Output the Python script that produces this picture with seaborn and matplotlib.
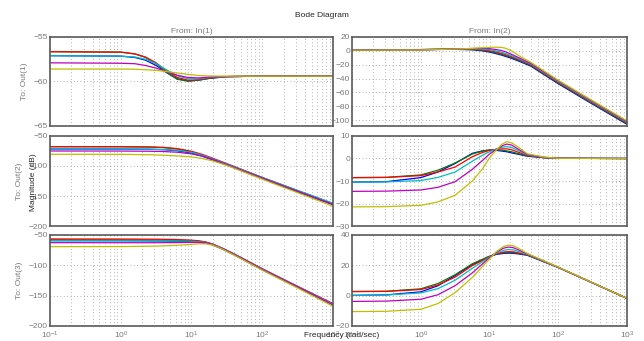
"""Bode magnitude diagram, 3 outputs x 2 inputs, six systems."""
import matplotlib
matplotlib.use("Agg")
import matplotlib.pyplot as plt
from matplotlib.ticker import LogLocator, NullFormatter
import pandas as pd
import seaborn as sns

SYSTEMS = ["b", "g", "r", "c", "m", "y"]
COLORS = {"b": "#0000ff", "g": "#008000", "r": "#ff0000",
          "c": "#00bfbf", "m": "#bf00bf", "y": "#bfbf00"}

# log10(frequency) sample points and magnitudes (dB)
W_OUT1_IN1 = [-1, 0, 0.2, 0.35, 0.5, 0.65, 0.8, 0.95, 1.1, 1.25, 1.5, 2, 3]
OUT1_IN1 = {
    "b": [-57.1, -57.15, -57.3, -57.6, -58.2, -59.0, -59.7, -59.95, -59.85, -59.65, -59.45, -59.4, -59.4],
    "g": [-56.65, -56.7, -56.9, -57.3, -58.0, -59.0, -59.75, -59.95, -59.85, -59.65, -59.45, -59.4, -59.4],
    "r": [-56.65, -56.7, -56.9, -57.25, -57.9, -58.8, -59.55, -59.85, -59.8, -59.6, -59.45, -59.4, -59.4],
    "c": [-57.1, -57.15, -57.25, -57.5, -58.0, -58.7, -59.35, -59.7, -59.7, -59.55, -59.45, -59.4, -59.4],
    "m": [-57.9, -57.95, -58.0, -58.2, -58.5, -58.9, -59.3, -59.55, -59.6, -59.5, -59.45, -59.4, -59.4],
    "y": [-58.6, -58.6, -58.62, -58.68, -58.75, -58.88, -59.05, -59.2, -59.32, -59.38, -59.4, -59.4, -59.4],
}

W_OUT1_IN2 = [-1, 0, 0.5, 0.75, 0.9, 1.0, 1.1, 1.17, 1.24, 1.32, 1.45, 1.6, 2, 2.5, 3]
OUT1_IN2 = {
    "b": [1.5, 1.8, 2.2, 1.5, 0.0, -1.8, -4.2, -6.0, -8.2, -10.8, -15.8, -22, -47.5, -77, -106],
    "g": [1.5, 1.8, 2.4, 2.0, 0.8, -0.8, -3.0, -4.8, -7.0, -9.6, -14.6, -21, -46.5, -76, -105],
    "r": [1.5, 1.8, 2.5, 2.5, 1.6, 0.3, -1.8, -3.5, -5.7, -8.4, -13.6, -20, -45.5, -75, -104],
    "c": [1.5, 1.8, 2.6, 3.0, 2.6, 1.6, -0.2, -1.8, -4.0, -6.9, -12.4, -19, -44.5, -74, -103],
    "m": [1.3, 1.6, 2.6, 3.4, 3.6, 3.2, 1.8, 0.6, -1.6, -5.0, -11.0, -18, -43.5, -73, -102],
    "y": [1.0, 1.3, 2.6, 3.6, 4.5, 5.0, 5.3, 5.0, 3.6, 0.0, -8.4, -16.5, -42.5, -72, -101],
}

W_OUT2_IN1 = [-1, 0, 0.4, 0.6, 0.8, 1.0, 1.15, 1.3, 1.5, 2, 2.5, 3]
OUT2_IN1 = {
    "b": [-71.7, -71.8, -72.1, -72.8, -74.5, -78.5, -83.5, -90, -98.5, -121, -143, -164.5],
    "g": [-67.8, -67.9, -68.4, -69.3, -71.7, -76.5, -82, -88.5, -97, -120, -142, -163.5],
    "r": [-67.8, -67.9, -68.3, -69.0, -71.0, -75.5, -80.5, -87, -96, -119, -141, -162.5],
    "c": [-71.7, -71.8, -72.0, -72.5, -73.8, -77.2, -82, -88, -96.5, -119, -140.5, -162],
    "m": [-75, -75.1, -75.4, -75.9, -77, -79.8, -83.5, -89, -97.5, -120, -142, -164],
    "y": [-80.5, -80.6, -81.2, -82, -83.2, -85, -87.5, -91.5, -99, -122, -144.5, -167],
}

W_OUT2_IN2 = [-1, -0.5, 0, 0.25, 0.5, 0.75, 0.9, 1.0, 1.1, 1.18, 1.25, 1.32, 1.4, 1.55, 1.8, 2, 3]
OUT2_IN2 = {
    "b": [-10.5, -10.3, -8.5, -6.0, -2.2, 2.3, 3.4, 3.7, 3.6, 3.3, 3.0, 2.5, 2.0, 1.0, 0.3, 0.1, 0],
    "g": [-8.5, -8.4, -7.3, -5.2, -2.0, 2.0, 3.3, 3.8, 3.8, 3.7, 3.4, 3.0, 2.3, 1.2, 0.4, 0.1, 0],
    "r": [-8.5, -8.4, -7.6, -6.0, -3.8, 0.8, 2.7, 3.6, 4.1, 4.3, 4.3, 3.9, 3.0, 1.4, 0.4, 0.1, 0],
    "c": [-10.5, -10.4, -9.8, -8.4, -6.0, -1.2, 1.5, 3.0, 4.2, 5.0, 5.3, 4.9, 3.8, 1.6, 0.5, 0.1, 0],
    "m": [-14.6, -14.5, -14.0, -12.8, -10.3, -4.8, -0.8, 2.0, 4.0, 5.6, 6.4, 6.0, 4.5, 1.8, 0.5, 0.1, 0],
    "y": [-21.5, -21.4, -20.8, -19.3, -16.3, -10.0, -4.5, 0.3, 3.8, 6.3, 7.5, 7.0, 5.4, 2.1, 0.6, 0.1, 0],
}

W_OUT3_IN1 = [-1, 0, 0.5, 0.8, 1.0, 1.1, 1.2, 1.3, 1.45, 1.6, 2, 2.5, 3]
OUT3_IN1 = {
    "b": [-59.4, -59.5, -59.8, -60.3, -61.0, -61.8, -63.3, -66.5, -74, -82.5, -107.5, -136.5, -165],
    "g": [-58.0, -58.1, -58.3, -58.8, -59.4, -60.2, -61.8, -65.2, -72.8, -81.5, -106.5, -135.5, -164],
    "r": [-56.6, -56.7, -57.0, -57.6, -58.6, -59.6, -61.5, -65.0, -72.5, -81, -105.5, -134.5, -163],
    "c": [-59.4, -59.5, -59.7, -60.0, -60.4, -61.0, -62.4, -65.6, -73, -81.5, -106, -135, -164],
    "m": [-62.7, -62.8, -62.8, -62.6, -62.2, -62.2, -63.0, -65.6, -73, -81.8, -106.5, -135.5, -165],
    "y": [-69.3, -69.2, -68.4, -67.0, -65.5, -64.6, -64.6, -66.5, -74, -83, -108, -137.5, -167.5],
}

W_OUT3_IN2 = [-1, -0.5, 0, 0.25, 0.5, 0.75, 1.0, 1.1, 1.2, 1.27, 1.34, 1.42, 1.55, 2, 2.5, 3]
OUT3_IN2 = {
    "b": [0.2, 0.5, 2.5, 6.5, 13.3, 20.5, 25.8, 27.2, 27.8, 28.0, 27.9, 27.5, 26.6, 18.6, 8.4, -1.8],
    "g": [2.7, 2.9, 4.5, 8.0, 13.8, 21.0, 26.0, 27.5, 28.3, 28.5, 28.4, 27.9, 26.8, 18.6, 8.4, -1.8],
    "r": [2.7, 2.8, 4.0, 7.0, 12.2, 19.8, 25.6, 27.6, 28.7, 29.0, 28.9, 28.2, 27.0, 18.6, 8.4, -1.8],
    "c": [0.2, 0.4, 1.8, 4.6, 10.2, 18.0, 25.4, 28.0, 29.8, 30.4, 30.2, 29.1, 27.2, 18.6, 8.4, -1.8],
    "m": [-3.8, -3.6, -2.4, 0.6, 6.6, 15.0, 25.0, 28.6, 31.2, 32.0, 31.7, 30.2, 27.5, 18.7, 8.4, -1.8],
    "y": [-10.5, -10.3, -9.0, -5.2, 2.0, 12.0, 24.2, 29.0, 32.3, 33.3, 33.0, 31.2, 27.8, 18.8, 8.5, -1.8],
}

Y_LIMITS = [[(-65, -55), (-108.5, 20)], [(-200, -50), (-30, 10)], [(-200, -50), (-20, 40)]]
Y_TICKS = [[[-65, -60, -55], list(range(-100, 21, 20))],
           [[-200, -150, -100, -50], [-30, -20, -10, 0, 10]],
           [[-200, -150, -100, -50], [-20, 0, 20, 40]]]
PANELS = [[(W_OUT1_IN1, OUT1_IN1), (W_OUT1_IN2, OUT1_IN2)],
          [(W_OUT2_IN1, OUT2_IN1), (W_OUT2_IN2, OUT2_IN2)],
          [(W_OUT3_IN1, OUT3_IN1), (W_OUT3_IN2, OUT3_IN2)]]
ROW_LABELS = ["To: Out(1)", "To: Out(2)", "To: Out(3)"]
COL_LABELS = ["From: In(1)", "From: In(2)"]

GREY = "#7a7a7a"
FRAME = "#5a5a5a"
GRID = dict(ls=(0, (1, 3)), lw=0.6, color="#9a9a9a")
FS = 6


def panel_frame(logw, mags):
    rows = []
    for sys_name in SYSTEMS:
        for lw, m in zip(logw, mags[sys_name]):
            rows.append({"w": 10.0 ** lw, "mag": m, "sys": sys_name})
    return pd.DataFrame(rows)


def main():
    sns.set_style("white")
    plt.rcParams["font.family"] = ["Liberation Sans", "DejaVu Sans"]
    fig = plt.figure(figsize=(6.44, 3.41), dpi=100)

    lefts = [0.0776, 0.5466]
    widths = [0.4394, 0.427]
    bottoms = [0.6305, 0.3372, 0.044]
    heights = [0.261, 0.264, 0.267]

    for i in range(3):
        for j in range(2):
            ax = fig.add_axes([lefts[j], bottoms[i], widths[j], heights[i]])
            logw, mags = PANELS[i][j]
            df = panel_frame(logw, mags)
            sns.lineplot(data=df, x="w", y="mag", hue="sys", hue_order=SYSTEMS,
                         palette=COLORS, legend=False, lw=0.9, ax=ax)
            ax.set_xscale("log")
            ax.set_xlim(0.1, 1000)
            ax.set_ylim(*Y_LIMITS[i][j])
            ax.set_yticks(Y_TICKS[i][j])
            ax.xaxis.set_major_locator(LogLocator(base=10, numticks=10))
            ax.xaxis.set_minor_locator(LogLocator(base=10, subs=range(2, 10), numticks=10))
            ax.xaxis.set_minor_formatter(NullFormatter())
            ax.grid(True, which="major", axis="both", **GRID)
            ax.grid(True, which="minor", axis="x", **GRID)
            ax.set_axisbelow(True)
            ax.set_xlabel("")
            ax.set_ylabel("")
            ax.tick_params(axis="both", which="both", direction="in", labelsize=FS,
                           colors=GREY, length=2, width=0.6, pad=1.5)
            ax.tick_params(axis="x", which="both", pad=3)
            ax.tick_params(axis="x", which="minor", length=1)
            if i < 2:
                ax.tick_params(axis="x", labelbottom=False)
            for spine in ax.spines.values():
                spine.set_color(FRAME)
                spine.set_linewidth(1.2)
            if j == 0:
                ax.set_ylabel(ROW_LABELS[i], fontsize=FS, color=GREY, labelpad=4)
            if i == 0:
                ax.set_title(COL_LABELS[j], fontsize=FS, color=GREY, pad=3)

    fig.text(0.5, 0.956, "Bode Diagram", ha="center", va="center", fontsize=FS)
    fig.text(0.052, 0.465, "Magnitude (dB)", rotation=90, ha="center", va="center", fontsize=FS)
    fig.text(0.53, 0.016, "Frequency (rad/sec)", ha="center", va="center", fontsize=FS)

    fig.savefig("out.png", dpi=100)
    plt.close(fig)


if __name__ == "__main__":
    main()
